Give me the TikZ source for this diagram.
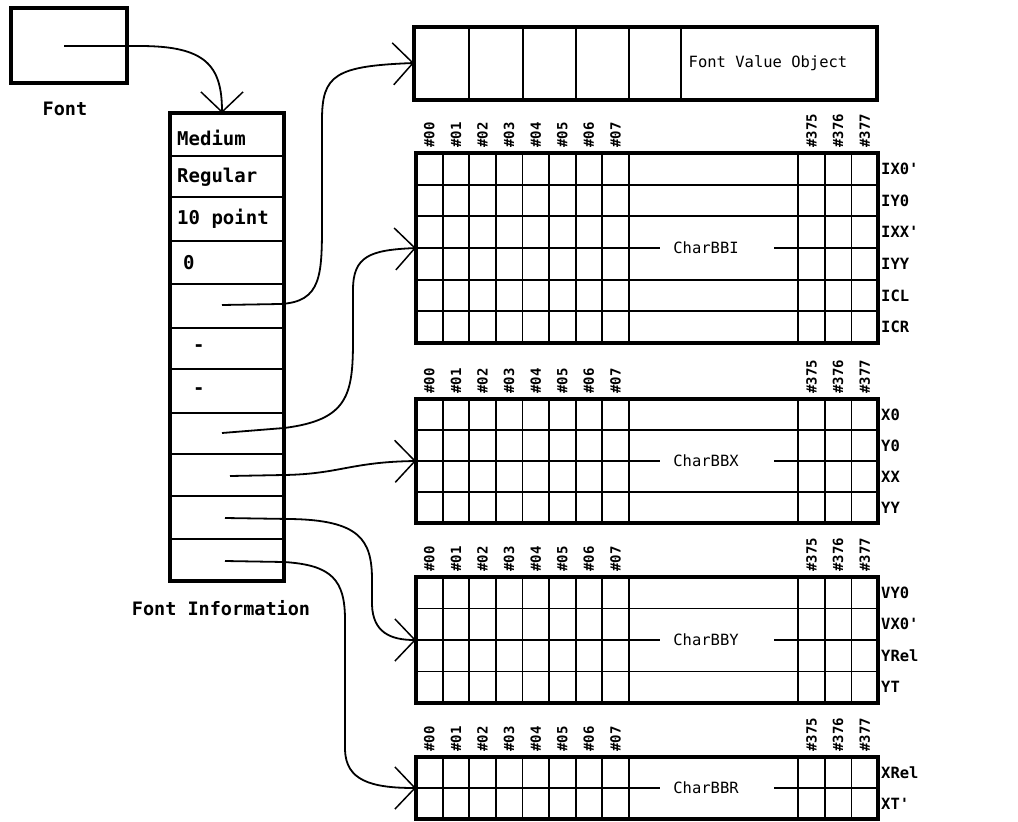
\documentclass[tikz,border=0pt]{standalone}
\usepackage{fontspec}
\setmonofont{DejaVu Sans Mono}
\usetikzlibrary{arrows.meta}

\tikzset{
  frame/.style={line width=3.4pt, line join=miter},
  cell/.style={line width=1.8pt},
  ptr/.style={line width=1.8pt, -{Straight Barb[length=20pt, width=42pt, line width=1.5pt]}},
  listtxt/.style={font=\ttfamily\bfseries\fontsize{19}{19}\selectfont, inner sep=0pt, anchor=west},
  captxt/.style={font=\ttfamily\bfseries\fontsize{18.5}{18.5}\selectfont, inner sep=0pt},
  midtxt/.style={font=\ttfamily\fontsize{15.5}{15.5}\selectfont, inner sep=0pt},
  rowtxt/.style={font=\ttfamily\bfseries\fontsize{15.5}{15.5}\selectfont, inner sep=0pt, anchor=west},
  hdrtxt/.style={font=\ttfamily\bfseries\fontsize{14}{14}\selectfont, inner sep=0pt, rotate=90, anchor=west},
}

% one table of character boxes: name, top, rows, row height, title, row labels
\newcommand{\chartable}[6]{%
  \pgfmathsetmacro{\tabbot}{#2+#3*#4}
  \pgfmathtruncatemacro{\tabhalf}{#3/2}
  \pgfmathsetmacro{\tabmid}{#2+\tabhalf*#4}
  \pgfmathtruncatemacro{\tablast}{#3-1}
  \foreach \k in {1,...,8}
    \draw[cell] ({416+\k*26.6},#2) -- ({416+\k*26.6},\tabbot);
  \foreach \k in {1,2,3}
    \draw[cell] ({878-\k*26.6},#2) -- ({878-\k*26.6},\tabbot);
  \foreach \rr in {1,...,\tablast} {
    \ifnum\rr=\tabhalf\relax\else
      \draw[cell] (416,{#2+\rr*#4}) -- (878,{#2+\rr*#4});
    \fi
  }
  \node[midtxt] (#1-title) at (706,\tabmid) {#5};
  \draw[cell] (416,\tabmid) -- (660,\tabmid);
  \draw[cell] (774,\tabmid) -- (878,\tabmid);
  \draw[frame] (416,#2) rectangle (878,\tabbot);
  \coordinate (#1) at (416,\tabmid);
  \foreach \k in {0,...,7}
    \node[hdrtxt] (#1-h\k) at ({416+(\k+0.5)*26.6},#2-5) {\#0\k};
  \foreach \k/\hx in {1/377,2/376,3/375}
    \node[hdrtxt] (#1-h\hx) at ({878-(\k-0.5)*26.6},#2-5) {\#\hx};
  \foreach \rl [count=\rr] in {#6}
    \node[rowtxt] (#1-r\rr) at (881,{#2+(\rr-0.5)*#4}) {\rl};
}

\begin{document}
\begin{tikzpicture}[x=1pt,y=1pt,yscale=-1,xscale=1]

\useasboundingbox (0,0) rectangle (1018,822);

% Font
\draw[frame] (11,8) rectangle (127,83);
\node[captxt] (fontcap) at (65,109) {Font};
\coordinate (fptr) at (64,46);

% Font Information
\foreach \y in {156,197,241,284,328,369,413,454,496,539}
  \draw[cell] (170,\y) -- (284,\y);
\draw[frame] (170,113) rectangle (284,581);
\coordinate (finfo) at (222,113);
\node[listtxt] (fi-1) at (177,138) {Medium};
\node[listtxt] (fi-2) at (177,177) {Regular};
\node[listtxt] (fi-3) at (177,219) {10 point};
\node[listtxt] (fi-4) at (183,263) {0};
\node[listtxt] (fi-6) at (193,348) {-};
\node[listtxt] (fi-7) at (193,391) {-};
\node[captxt] (ficap) at (221,608) {Font Information};
\coordinate (p5) at (222,305);
\coordinate (p8) at (222,433);
\coordinate (p9) at (230,476);
\coordinate (p10) at (225,518);
\coordinate (p11) at (225,561);

% Font Value Object
\foreach \x in {469,523,576,629,681}
  \draw[cell] (\x,27) -- (\x,100);
\draw[frame] (414,27) rectangle (877,100);
\coordinate (fvo) at (414,63);
\node[font=\ttfamily\fontsize{15.5}{15.5}\selectfont] (fvo-title) at (768,63) {Font Value Object};

% character tables
\chartable{bbi}{153}{6}{31.67}{CharBBI}{IX0',IY0,IXX',IYY,ICL,ICR}
\chartable{bbx}{399}{4}{31}{CharBBX}{X0,Y0,XX,YY}
\chartable{bby}{577}{4}{31.5}{CharBBY}{VY0,VX0',YRel,YT}
\chartable{bbr}{757}{2}{31}{CharBBR}{XRel,XT'}

% pointers
\draw[ptr] (fptr) -- (140,46) .. controls (205,46) and (222,65) .. (finfo);
\draw[ptr] (p5) -- (280,304) .. controls (322,302) and (322,275) .. (322,220)
  -- (322,120) .. controls (322,75) and (335,66) .. (fvo);
\draw[ptr] (p8) -- (284,428) .. controls (348,420) and (353,395) .. (353,340)
  -- (353,290) .. controls (353,256) and (370,250) .. (bbi);
\draw[ptr] (p9) -- (284,475) .. controls (340,474) and (350,462) .. (bbx);
\draw[ptr] (p10) -- (290,519) .. controls (360,520) and (372,540) .. (372,580)
  -- (372,605) .. controls (373,632) and (390,640) .. (bby);
\draw[ptr] (p11) -- (284,562) .. controls (332,565) and (345,580) .. (345,620)
  -- (345,750) .. controls (346,780) and (370,788) .. (bbr);

\end{tikzpicture}
\end{document}
